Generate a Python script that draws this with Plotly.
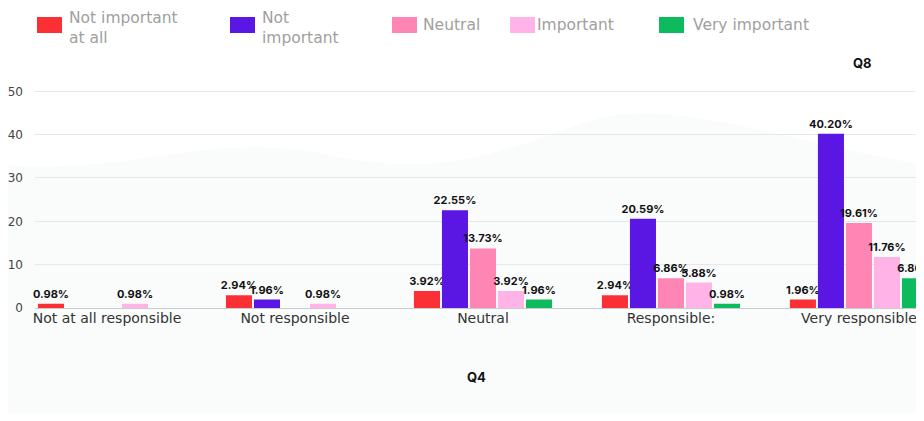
import plotly.graph_objects as go

categories = ["Not at all responsible", "Not responsible", "Neutral", "Responsible:", "Very responsible"]
series_names = ["Not important<br>at all", "Not<br>important", "Neutral", "Important", "Very important"]
not_important_at_all = [0.98, 2.94, 3.92, 2.94, 1.96]
not_important = [None, 1.96, 22.55, 20.59, 40.20]
neutral = [None, None, 13.73, 6.86, 19.61]
important = [0.98, 0.98, 3.92, 5.88, 11.76]
very_important = [None, None, 1.96, 0.98, 6.86]
y_ticks = [0, 10, 20, 30, 40, 50]

series = [not_important_at_all, not_important, neutral, important, very_important]
colors = ["#FB3035", "#5A17E3", "#FF86B4", "#FFB3E6", "#0DBA5E"]

# page offset (body margin) compensation: figure sized so that page never scrolls
OFF = 8
W, H = 924 - OFF, 421 - 2 * OFF
ML, MR, MT = 35 - OFF, 0, 90 - OFF
MB = H - (308 - OFF)
PW = W - ML - MR
PH = H - MT - MB

def px(x):  # screen x -> paper
    return (x - OFF - ML) / PW

def py(y):  # screen y -> paper
    return (H - MB - (y - OFF)) / PH

fig = go.Figure()
for name, vals, col in zip(series_names, series, colors):
    fig.add_trace(go.Bar(
        x=categories, y=vals, name=name, marker_color=col, marker_line_width=0,
        texttemplate="%{y:.2f}%", textposition="outside", constraintext="none",
        textfont=dict(family="Inter, Arial", size=11, color="#111111", weight="bold"),
        cliponaxis=False, showlegend=False,
    ))

shapes = []
annotations = []
# wavy decorative background
shapes.append(dict(type="path", xref="paper", yref="paper", layer="below",
    path=f"M {px(0)},{py(165)} C {px(150)},{py(175)} {px(200)},{py(130)} {px(330)},{py(155)} "
         f"C {px(450)},{py(180)} {px(500)},{py(150)} {px(600)},{py(118)} "
         f"C {px(680)},{py(100)} {px(780)},{py(140)} {px(924)},{py(165)} "
         f"L {px(924)},{py(413)} L {px(0)},{py(413)} Z",
    fillcolor="rgba(228,232,235,0.18)", line_width=0))

legend_items = [
    (37, 68, "Not important<br>at all"),
    (230, 261, "Not<br>important"),
    (392, 422, "Neutral"),
    (510, 536, "Important"),
    (659, 692, "Very important"),
]
for (x0, tx, label), col in zip(legend_items, colors):
    shapes.append(dict(type="rect", xref="paper", yref="paper",
                       x0=px(x0), x1=px(x0 + 25), y0=py(33), y1=py(17),
                       fillcolor=col, line_width=0))
    two_line = "<br>" in label
    annotations.append(dict(xref="paper", yref="paper", x=px(tx),
                            y=py(OFF) if two_line else py(25),
                            text=label, showarrow=False, xanchor="left",
                            yanchor="top" if two_line else "middle",
                            align="left", borderpad=0,
                            font=dict(family="DejaVu Sans", size=15.5, color="#a0a0a0")))

annotations.append(dict(xref="paper", yref="paper", x=px(862), y=py(63), text="<b>Q8</b>",
                        showarrow=False, xanchor="center", yanchor="middle",
                        font=dict(family="Inter, Arial", size=13, color="#111111")))
annotations.append(dict(xref="paper", yref="paper", x=px(476), y=py(377), text="<b>Q4</b>",
                        showarrow=False, xanchor="center", yanchor="middle",
                        font=dict(family="Inter, Arial", size=13, color="#111111")))

fig.update_layout(
    width=W, height=H,
    margin=dict(l=ML, r=MR, t=MT, b=MB),
    paper_bgcolor="white", plot_bgcolor="rgba(0,0,0,0)",
    barmode="group", bargap=0.255, bargroupgap=0.07,
    shapes=shapes, annotations=annotations,
    font=dict(family="Inter, Arial"),
)
fig.update_xaxes(range=[-0.383, 4.346], showgrid=False, showline=False, ticks="",
                 tickfont=dict(family="DejaVu Sans", size=14, color="#333333"))
fig.update_yaxes(range=[0, 50.3], tickvals=y_ticks, showgrid=True, gridcolor="#e4e8ea",
                 zeroline=True, zerolinecolor="#c8cccf", zerolinewidth=1,
                 tickfont=dict(family="DejaVu Sans", size=12, color="#444444"), ticklabelstandoff=11)

fig.write_html("out.html")
